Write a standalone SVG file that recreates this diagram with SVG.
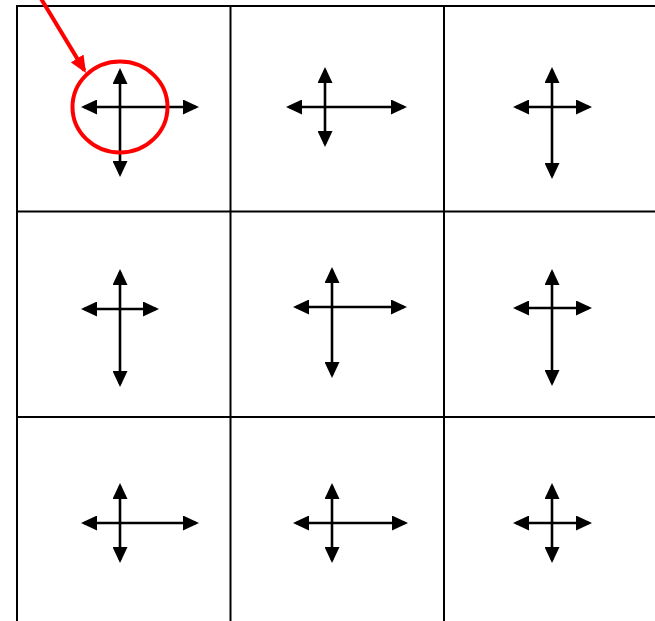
<svg xmlns="http://www.w3.org/2000/svg" width="655" height="621" viewBox="0 0 655 621">
<style>
.grid{stroke:#000;stroke-width:2;fill:none}
.ax{stroke:#000;stroke-width:2.6;fill:none;marker-start:url(#ah);marker-end:url(#ah)}
.hl{stroke:#f00;stroke-width:4;fill:none}
</style>
<defs>
<marker id="ah" viewBox="0 0 16 15" refX="13" refY="7.5" markerWidth="16" markerHeight="15" markerUnits="userSpaceOnUse" orient="auto-start-reverse">
<path d="M0,0 L16,7.5 L0,15 z" fill="#000"/>
</marker>
<marker id="rh" viewBox="0 0 17 15" refX="14" refY="7.5" markerWidth="17" markerHeight="15" markerUnits="userSpaceOnUse" orient="auto">
<path d="M0,0 L17,7.5 L0,15 z" fill="#f00"/>
</marker>
</defs>
<rect width="655" height="621" fill="#fff"/>
<g id="grid" class="grid">
<line x1="16" y1="6" x2="655" y2="6"/>
<line x1="16" y1="211.5" x2="655" y2="211.5"/>
<line x1="16" y1="417" x2="655" y2="417"/>
<line x1="17" y1="5" x2="17" y2="621"/>
<line x1="230.5" y1="5" x2="230.5" y2="621"/>
<line x1="444" y1="5" x2="444" y2="621"/>
</g>
<g id="cell1"><line class="ax" x1="84" y1="107" x2="196" y2="107"/><line class="ax" x1="120" y1="71" x2="120" y2="174"/></g>
<g id="cell2"><line class="ax" x1="289" y1="107" x2="404" y2="107"/><line class="ax" x1="325" y1="70" x2="325" y2="144"/></g>
<g id="cell3"><line class="ax" x1="516" y1="107" x2="589" y2="107"/><line class="ax" x1="552" y1="70" x2="552" y2="176"/></g>
<g id="cell4"><line class="ax" x1="84" y1="309" x2="156" y2="309"/><line class="ax" x1="120" y1="272" x2="120" y2="384"/></g>
<g id="cell5"><line class="ax" x1="296" y1="307" x2="404" y2="307"/><line class="ax" x1="332" y1="270" x2="332" y2="375"/></g>
<g id="cell6"><line class="ax" x1="516" y1="308" x2="589" y2="308"/><line class="ax" x1="552" y1="272" x2="552" y2="383"/></g>
<g id="cell7"><line class="ax" x1="84" y1="523" x2="196" y2="523"/><line class="ax" x1="120" y1="486" x2="120" y2="560"/></g>
<g id="cell8"><line class="ax" x1="296" y1="523" x2="405" y2="523"/><line class="ax" x1="332" y1="486" x2="332" y2="560"/></g>
<g id="cell9"><line class="ax" x1="516" y1="523" x2="589" y2="523"/><line class="ax" x1="552" y1="486" x2="552" y2="560"/></g>
<g id="highlight">
<ellipse class="hl" cx="120" cy="107" rx="47.5" ry="45.5"/>
<line class="hl" x1="40" y1="-3" x2="84.4" y2="70.4" marker-end="url(#rh)"/>
</g>
</svg>
